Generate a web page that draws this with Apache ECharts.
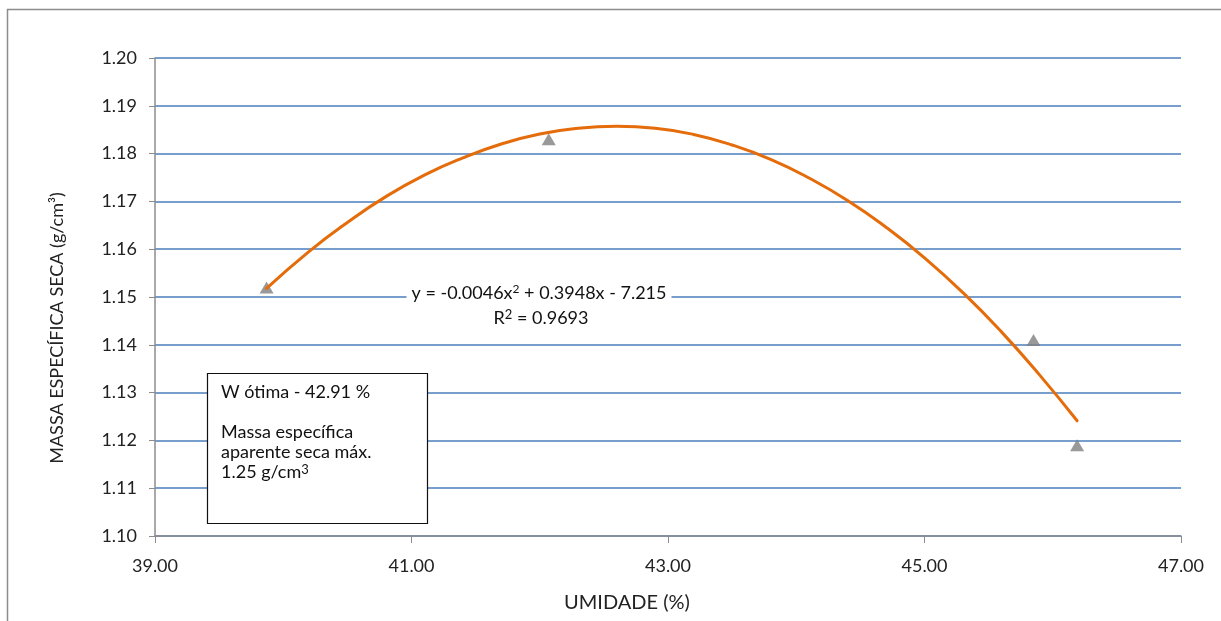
<!DOCTYPE html>
<html>
<head>
<meta charset="utf-8">
<script src="https://cdn.jsdelivr.net/npm/echarts@6/dist/echarts.min.js"></script>
<style>
html,body{margin:0;padding:0;background:#fff;}
#chart{width:1221px;height:621px;}
</style>
</head>
<body>
<div id="chart"></div>
<script>
// Measured points (UMIDADE %, massa específica seca g/cm³)
const pointX = [39.87, 42.07, 45.85, 46.19];
const pointY = [1.152, 1.183, 1.141, 1.119];
// Polynomial trendline
const trendX = [39.87, 40.2, 40.5, 40.8, 41.1, 41.4, 41.7, 42.0, 42.3, 42.6, 42.9, 43.2, 43.5, 43.8, 44.1, 44.4, 44.7, 45.0, 45.3, 45.6, 45.9, 46.19];
const trendY = [1.1518, 1.1595, 1.1656, 1.1710, 1.1755, 1.1791, 1.1820, 1.1841, 1.1853, 1.1857, 1.1853, 1.1840, 1.1818, 1.1788, 1.1749, 1.1702, 1.1646, 1.1582, 1.1509, 1.1427, 1.1336, 1.1241];
const xTicks = [39, 41, 43, 45, 47];
const yTicks = [1.10, 1.11, 1.12, 1.13, 1.14, 1.15, 1.16, 1.17, 1.18, 1.19, 1.20];
const xTitle = 'UMIDADE (%)';
const yTitle = 'MASSA ESPECÍFICA SECA (g/cm³)';
const eqText = 'y = -0.0046x{sup|2} + 0.3948x - 7.215';
const r2Text = 'R{sup2|2} = 0.9693';
const boxLines = ['W ótima - 42.91 %', '', 'Massa específica', 'aparente seca máx.', '1.25 g/cm{sup2|3}'];

const FONT = 'Lato';
const chart = echarts.init(document.getElementById('chart'));
const richSup = {
  sup: {fontSize: 12, fontFamily: FONT, fill: '#111', color: '#111', verticalAlign: 'bottom', padding: [0, 0, 8, 0]},
  sup2: {fontSize: 13, fontFamily: FONT, fill: '#111', color: '#111', verticalAlign: 'bottom', padding: [0, 0, 6, 0]}
};
const option = {
  backgroundColor: '#fff',
  animation: false,
  textStyle: {fontFamily: FONT},
  grid: {left: 155, right: 40, top: 58, bottom: 85, containLabel: false},
  xAxis: {
    type: 'value',
    min: xTicks[0], max: xTicks[xTicks.length - 1], interval: 2,
    axisLine: {show: true, lineStyle: {color: '#8c8c8c', width: 1.5}},
    axisTick: {show: true, length: 7, lineStyle: {color: '#8c8c8c'}},
    splitLine: {show: false},
    axisLabel: {margin: 21, color: '#222', fontSize: 18, fontFamily: FONT, formatter: v => v.toFixed(2)}
  },
  yAxis: {
    type: 'value',
    min: yTicks[0], max: yTicks[yTicks.length - 1], interval: 0.01,
    axisLine: {show: true, lineStyle: {color: '#8c8c8c', width: 1.5}},
    axisTick: {show: true, length: 6, lineStyle: {color: '#8c8c8c'}},
    splitLine: {show: true, lineStyle: {color: '#4a7ebb', width: 1.5}},
    axisLabel: {margin: 18, color: '#222', fontSize: 18, fontFamily: FONT, formatter: v => v.toFixed(2)}
  },
  series: [
    {
      type: 'line',
      data: trendX.map((x, i) => [x, trendY[i]]),
      smooth: true,
      showSymbol: false,
      symbol: 'none',
      lineStyle: {color: '#E46C0A', width: 3, cap: 'round'},
      z: 3
    },
    {
      type: 'scatter',
      data: pointX.map((x, i) => [x, pointY[i]]),
      symbol: 'triangle',
      symbolSize: [14, 12],
      itemStyle: {color: '#7f7f7f'},
      z: 2
    }
  ],
  graphic: [
    {type: 'rect', shape: {x: 7.5, y: 9.5, width: 1400, height: 800}, style: {fill: 'none', stroke: '#8c8c8c', lineWidth: 1.5}, silent: true},
    {type: 'text', x: 627, y: 603, style: {text: xTitle, font: '20px ' + FONT, fill: '#222', textAlign: 'center', textVerticalAlign: 'middle'}},
    {type: 'text', x: 57, y: 328, rotation: Math.PI / 2, style: {text: yTitle, font: '18px ' + FONT, fill: '#222', textAlign: 'center', textVerticalAlign: 'middle'}},
    {type: 'text', x: 539, y: 293, z: 10, style: {text: eqText, rich: richSup, font: '18px ' + FONT, fill: '#111', textAlign: 'center', textVerticalAlign: 'middle', backgroundColor: '#fff', padding: [2, 5]}},
    {type: 'text', x: 541, y: 318, z: 10, style: {text: r2Text, rich: richSup, font: '18px ' + FONT, fill: '#111', textAlign: 'center', textVerticalAlign: 'middle'}},
    {type: 'rect', z: 10, shape: {x: 207.5, y: 373.5, width: 220, height: 150}, style: {fill: '#fff', stroke: '#111', lineWidth: 1.2}},
    {type: 'text', z: 11, x: 221, y: 382, style: {text: boxLines.join('\n'), rich: richSup, font: '18px ' + FONT, fill: '#111', lineHeight: 20, textAlign: 'left', textVerticalAlign: 'top'}}
  ]
};
chart.setOption(option);
</script>
</body>
</html>
